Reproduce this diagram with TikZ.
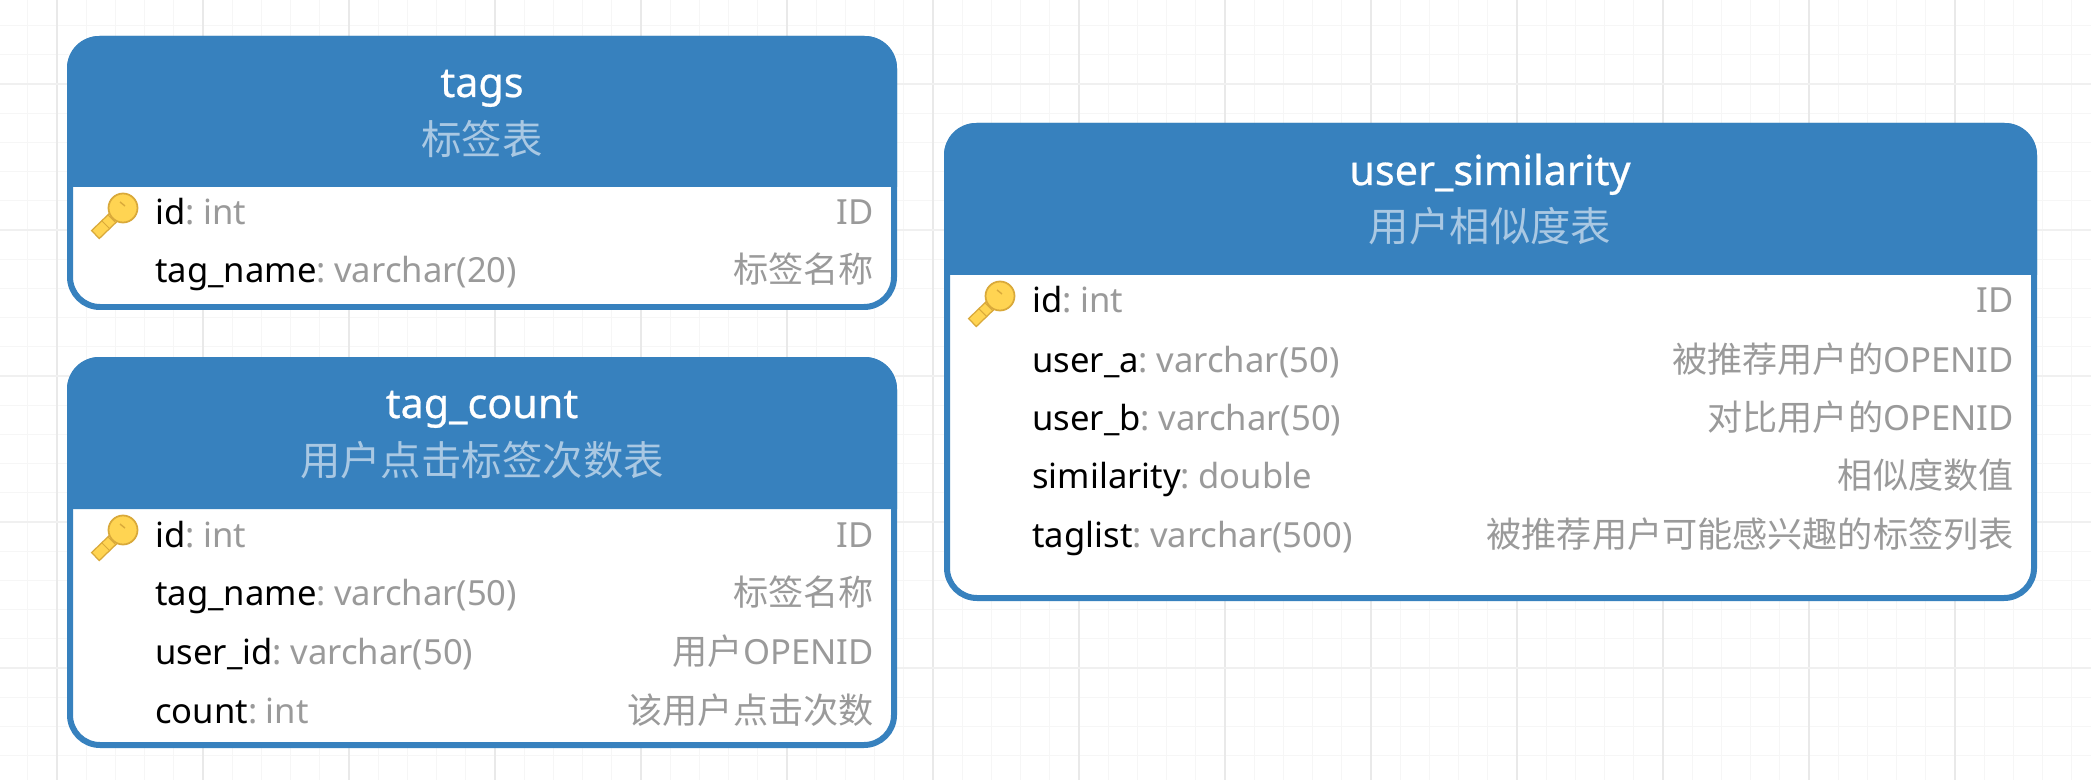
\documentclass[tikz,border=0pt]{standalone}
\usepackage{fontspec}
\setmainfont{Noto Sans}
\newfontfamily\cjk{Noto Sans CJK SC}
\newfontfamily\titlefont[FakeBold=.6]{Noto Sans}
\definecolor{headblue}{HTML}{3781BE}
\definecolor{subblue}{HTML}{A9C8E3}
\definecolor{typegray}{HTML}{9A9A9A}
\definecolor{minorgrid}{HTML}{F6F6F6}
\definecolor{majorgrid}{HTML}{E9E9E9}
\definecolor{keygold}{HTML}{FFD452}
\definecolor{keyedge}{HTML}{D9A93A}
\newcommand{\goldkey}[2]{%
	\draw[keyedge,line width=7pt] (#1,#2) -- ++(-28,27);
	\draw[keygold,line width=5.4pt] (#1,#2) -- ++(-27,26);
	\draw[keyedge,line width=.6pt] (#1-21,#2+13) -- ++(8,8) (#1-15,#2+7) -- ++(8,8);
	\draw[draw=keyedge,fill=keygold,line width=1pt] (#1,#2) circle (14.5);
	\draw[keyedge,line width=.8pt] (#1-3,#2-6) -- ++(5,4);
}
\newcommand{\cjknote}[1]{{\fontsize{20}{20}\cjk #1}}
\begin{document}
\begin{tikzpicture}[x=.02cm,y=-.02cm,
	tabletitle/.style={text=white,font=\fontsize{23.5}{23.5}\titlefont,anchor=base},
	tablesub/.style={text=subblue,font=\fontsize{23}{23}\cjk,anchor=base},
	fieldtext/.style={inner sep=0pt,anchor=base west,font=\fontsize{19.7}{19.7}\selectfont},
	notetext/.style={inner sep=0pt,anchor=base east,text=typegray,font=\fontsize{19.7}{19.7}\selectfont}]
	\useasboundingbox (0,0) rectangle (2091,780);
	\fill[white] (0,0) rectangle (2091,780);
	% background grid
	\foreach \k in {0,...,71}{
		\draw[minorgrid,line width=.7pt] ({-1.4+\k*29.2},0) -- ++(0,780);
	}
	\foreach \k in {0,...,26}{
		\draw[minorgrid,line width=.7pt] (0,{25.6+\k*29.2}) -- ++(2091,0);
	}
	\foreach \k in {0,...,14}{
		\draw[majorgrid,line width=.7pt] ({57+\k*146},0) -- ++(0,780);
	}
	\foreach \k in {0,...,4}{
		\draw[majorgrid!70!white,line width=.7pt] (0,{84+\k*146}) -- ++(2091,0);
	}
	% table frames
	\foreach \xa/\ya/\xb/\yb/\yc in {67/36/897/187/310,67/357/897/509/748,944/123/2037/275/601}{
		\draw[headblue,fill=white,line width=.12cm,rounded corners=.6cm] (\xa+3,\ya+3) rectangle (\xb-3,\yc-3);
		\fill[headblue,rounded corners=.64cm] (\xa,\yb) -- (\xa,\ya) -- (\xb,\ya) -- (\xb,\yb);
	}
	% titles
	\node[tabletitle] (tags) at (482,97) {tags};
	\node[tablesub] (tags-sub) at (482,155) {标签表};
	\node[tabletitle] (count) at (482,418) {tag\_count};
	\node[tablesub] (count-sub) at (482,475) {用户点击标签次数表};
	\node[tabletitle] (sim) at (1490,185) {user\_similarity};
	\node[tablesub] (sim-sub) at (1490,242) {用户相似度表};
	% keys
	\goldkey{123}{208}
	\goldkey{123}{530}
	\goldkey{1000}{296}
	% rows of tags
	\foreach \i/\y/\f/\t/\c in {1/225/id/int/ID,2/283/tag\_name/varchar(20)/{\cjknote{标签名称}}}{
		\node[fieldtext] (tags-f\i) at (155,\y) {\f\textcolor{typegray}{: \kern-2pt\t}};
		\node[notetext] (tags-c\i) at (874,\y) {\c};
	}
	% rows of tag_count
	\foreach \i/\y/\f/\t/\c in {1/547/id/int/ID,2/605/tag\_name/varchar(50)/{\cjknote{标签名称}},3/664/user\_id/varchar(50)/{\cjknote{用户}OPENID},4/723/count/int/{\cjknote{该用户点击次数}}}{
		\node[fieldtext] (count-f\i) at (155,\y) {\f\textcolor{typegray}{: \kern-2pt\t}};
		\node[notetext] (count-c\i) at (874,\y) {\c};
	}
	% rows of user_similarity
	\foreach \i/\y/\f/\t/\c in {1/313/id/int/ID,2/372/user\_a/varchar(50)/{\cjknote{被推荐用户的}OPENID},3/430/user\_b/varchar(50)/{\cjknote{对比用户的}OPENID},4/488/similarity/double/{\cjknote{相似度数值}},5/547/taglist/varchar(500)/{\cjknote{被推荐用户可能感兴趣的标签列表}}}{
		\node[fieldtext] (sim-f\i) at (1032,\y) {\f\textcolor{typegray}{: \kern-2pt\t}};
		\node[notetext] (sim-c\i) at (2014,\y) {\c};
	}
\end{tikzpicture}
\end{document}
